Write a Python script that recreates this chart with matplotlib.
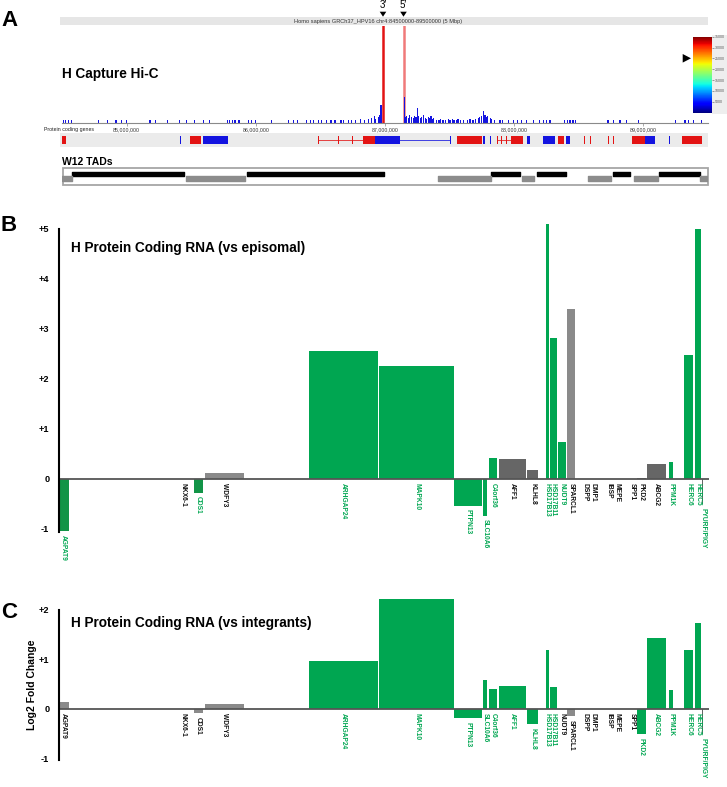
import matplotlib
matplotlib.use('Agg')
import matplotlib.pyplot as plt
from matplotlib.patches import Rectangle, Polygon
from matplotlib.colors import Normalize
from matplotlib.cm import ScalarMappable
import numpy as np

plt.rcParams['font.family'] = ['Liberation Sans', 'DejaVu Sans']

# ---------------- DATA ----------------
# Panel A: capture Hi-C read-count bars (position in Mb, height in track units)
hic_pos = [84.510, 84.529, 84.549, 84.570, 84.781, 84.854, 84.918, 84.962, 85.001, 85.181,
           85.220, 85.315, 85.406, 85.465, 85.529, 85.594, 85.640, 85.783, 85.800, 85.821,
           85.839, 85.870, 85.942, 85.968, 85.994, 86.123, 86.252, 86.290, 86.324, 86.394,
           86.420, 86.445, 86.484, 86.510, 86.549, 86.582, 86.613, 86.652, 86.665, 86.677,
           86.716, 86.743, 86.768, 86.807, 86.845, 86.871,
           86.896, 86.915, 86.930, 86.946, 86.957, 86.969,
           87.151, 87.159, 87.170, 87.182, 87.193, 87.205, 87.217, 87.228, 87.240, 87.253,
           87.263, 87.275, 87.286, 87.298, 87.310, 87.321, 87.333, 87.344, 87.356, 87.368,
           87.379, 87.395, 87.418, 87.433, 87.449, 87.472, 87.488, 87.503, 87.519, 87.534,
           87.550, 87.565, 87.588, 87.611, 87.635, 87.658, 87.681, 87.704, 87.720, 87.735,
           87.747, 87.761, 87.774, 87.786, 87.797, 87.813, 87.828, 87.844, 87.890, 87.906,
           87.954, 87.993, 88.029, 88.060, 88.097, 88.148, 88.194, 88.225, 88.252, 88.277,
           88.393, 88.409, 88.432, 88.455, 88.471, 88.726, 88.765, 88.819, 88.871, 88.961,
           89.245, 89.322, 89.348, 89.386, 89.451]
hic_val = [3, 3, 3, 3, 3, 3, 3, 3, 3, 3,
           3, 3, 3, 3, 3, 3, 3, 3, 3, 3,
           3, 3, 3, 3, 3, 3, 3, 3, 3, 3,
           3, 3, 3, 3, 3, 3, 3, 3, 3, 3,
           3, 3, 3, 4, 3, 4,
           5, 7, 4, 6, 8, 18,
           26, 6, 7, 5, 8, 6, 5, 7, 6, 15,
           7, 5, 6, 8, 5, 4, 6, 5, 7, 4,
           5, 3, 3, 4, 3, 3, 4, 3, 4, 3,
           3, 4, 3, 3, 3, 4, 3, 4, 5, 6,
           7, 12, 8, 6, 7, 5, 4, 3, 3, 3,
           3, 3, 3, 3, 3, 3, 3, 3, 3, 3,
           3, 3, 3, 3, 3, 3, 3, 3, 3, 3,
           3, 3, 3, 3, 3]
viral_3p = 86.981
viral_5p = 87.147
mb_ticks = [85, 86, 87, 88, 89]
mb_labels = ['85,000,000', '86,000,000', '87,000,000', '88,000,000', '89,000,000']

# protein coding genes track (start Mb, end Mb, strand colour)
trk_start = [84.500, 85.410, 85.491, 85.589, 86.830, 86.923, 87.555, 87.758, 87.810, 87.975,
             88.097, 88.223, 88.339, 88.401, 88.537, 88.584, 88.723, 88.762, 88.910, 89.013,
             89.195, 89.296, 86.484, 86.636, 86.745, 87.503, 87.864, 87.900, 87.935]
trk_end = [84.529, 85.418, 85.574, 85.783, 86.923, 87.116, 87.748, 87.774, 87.818, 88.070,
           88.122, 88.316, 88.386, 88.432, 88.545, 88.592, 88.731, 88.770, 89.013, 89.090,
           89.203, 89.451, 86.492, 86.644, 86.753, 87.510, 87.872, 87.908, 87.943]
trk_col = ['r', 'b', 'r', 'b', 'r', 'b', 'r', 'b', 'b', 'r',
           'b', 'b', 'r', 'b', 'r', 'r', 'r', 'r', 'r', 'b',
           'b', 'r', 'r', 'r', 'r', 'b', 'r', 'r', 'r']
intron_start = [86.484, 87.116, 87.864]
intron_end = [86.830, 87.503, 87.975]
intron_col = ['r', 'b', 'r']

# W12 TADs
tad_black = [(84.581, 85.441), (85.933, 86.992), (87.818, 88.047), (88.173, 88.404),
             (88.767, 88.898), (89.122, 89.438)]
tad_grey = [(84.500, 84.581), (85.457, 85.919), (87.407, 87.818), (88.062, 88.157),
            (88.574, 88.752), (88.929, 89.114), (89.438, 89.500)]

# Panels B & C: genes along the locus (position units along the region)
genes = ["AGPAT9", "NKX6-1", "CDS1", "WDFY3", "ARHGAP24", "MAPK10", "PTPN13", "SLC10A6",
         "C4orf36", "AFF1", "KLHL8", "HSD17B13", "HSD17B11", "NUDT9", "SPARCL1", "DSPP",
         "DMP1", "IBSP", "MEPE", "SPP1", "PKD2", "ABCG2", "PPM1K", "HERC6", "HERC5",
         "PYURF/PIGY"]
gene_start = [0, 122, 135, 146, 250, 320, 395, 424, 430, 440, 468, 487, 491, 499, 508,
              524, 532, 548, 556.5, 571, 577.5, 588, 610, 625, 636, 643]
gene_end = [9.5, 126, 144, 185, 319, 395, 423, 428, 438, 467, 479, 490, 498, 507, 516,
            528, 536, 552, 560.5, 575, 587, 607, 613.5, 634, 642, 644]

lfc_episomal = [-1.04, 0, -0.27, 0.13, 2.56, 2.27, -0.53, -0.73, 0.43, 0.40, 0.18, 5.10,
                2.83, 0.74, 3.41, 0, 0, 0, 0, 0, 0.03, 0.30, 0.35, 2.48, 5.00, -0.50]
sig_episomal = ['dg', '-', 'dg', 'lg', 'g', 'g', 'g', 'g', 'g', 'k', 'k', 'g',
                'g', 'g', 'lg', '-', '-', '-', '-', '-', 'k', 'k', 'g', 'g', 'g', 'k']
lab_episomal = ['g', 'k', 'g', 'k', 'g', 'g', 'g', 'g', 'g', 'k', 'k', 'g',
                'g', 'g', 'k', 'k', 'k', 'k', 'k', 'k', 'k', 'k', 'g', 'g', 'g', 'g']

lfc_integrants = [0.14, 0, -0.09, 0.10, 0.96, 2.22, -0.19, 0.59, 0.41, 0.47, -0.30, 1.19,
                  0.45, 0, -0.14, 0, 0, 0, 0, 0, -0.50, 1.43, 0.38, 1.20, 1.73, -0.50]
sig_integrants = ['lg', '-', 'lg', 'lg', 'g', 'g', 'g', 'g', 'g', 'g', 'g', 'g',
                  'g', '-', 'lg', '-', '-', '-', '-', '-', 'g', 'g', 'g', 'g', 'g', 'k']
lab_integrants = ['k', 'k', 'k', 'k', 'g', 'g', 'g', 'g', 'g', 'g', 'g', 'g',
                  'g', 'k', 'k', 'k', 'k', 'k', 'k', 'k', 'g', 'g', 'g', 'g', 'g', 'g']

yt_B = [-1, 0, 1, 2, 3, 4, 5]
yt_B_lab = ['-1', '0', '+1', '+2', '+3', '+4', '+5']
yt_C = [-1, 0, 1, 2]
yt_C_lab = ['-1', '0', '+1', '+2']

# ---------------- STYLE ----------------
GREEN = '#00a651'
DGREEN = '#129447'
bar_colors = {'g': GREEN, 'dg': DGREEN, 'lg': '#8a8a8a', 'k': '#666666', '-': '#888888'}
txt_colors = {'g': GREEN, 'k': '#111111'}
RED = '#e31414'
BLUE = '#1414e0'
cmap_track = {'r': RED, 'b': BLUE}

W, H = 727, 787
fig = plt.figure(figsize=(W / 100, H / 100), dpi=100)


def add_ax(x0, y0, x1, y1):
    a = fig.add_axes([x0 / W, 1 - y1 / H, (x1 - x0) / W, (y1 - y0) / H])
    a.set_facecolor('none')
    return a


ov = add_ax(0, 0, W, H)
ov.set_xlim(0, W)
ov.set_ylim(H, 0)
ov.axis('off')
ov.set_zorder(-1)

# panel letters
for letter, yy in [("A", 20), ("B", 225.5), ("C", 613)]:
    ov.text(1, yy, letter, fontsize=16, fontweight='bold', va='center', ha='left')

# ---------------- PANEL A ----------------
ov.add_patch(Rectangle((60, 17), 648, 8.3, color='#e6e6e6', lw=0))
ov.text(378, 21.2, "Homo sapiens GRCh37_HPV16 chr4:84500000-89500000 (5 Mbp)",
        fontsize=4.1, ha='center', va='center', color='#333333')
for xx, lab in [(383, "3\u2032"), (403.5, "5\u2032")]:
    ov.text(xx, 5, lab, fontsize=7, ha='center', va='center')
    ov.add_patch(Polygon([(xx - 3.3, 11.7), (xx + 3.3, 11.7), (xx, 16.7)], closed=True,
                         color='black', lw=0))
ov.text(62, 74, "H Capture Hi-C", fontsize=9.8, fontweight='bold', va='center', ha='left')
ov.text(44, 129.5, "Protein coding genes", fontsize=3.8, va='center', ha='left', color='#222222')
ov.add_patch(Rectangle((60, 132.7), 648, 14.6, color='#ebebeb', lw=0))
ov.text(62, 162.3, "W12 TADs", fontsize=7.5, fontweight='bold', va='center', ha='left')
ov.add_patch(Rectangle((62.6, 167.7), 645.4, 17.3, fill=False, ec='#a6a6a6', lw=1.3))
ov.add_patch(Rectangle((711.7, 35), 15, 79, color='#eeeeee', lw=0))
ov.add_patch(Polygon([(682.7, 54), (682.7, 62.6), (691, 58.3)], closed=True, color='black', lw=0))

hic = add_ax(62, 26, 708, 122.7)
hic.set_xlim(84.5, 89.5)
hic.set_ylim(0, 96.7)
hic.axvline(viral_3p, color=RED, lw=1.8, zorder=1)
hic.axvline(viral_5p, color='#f07a7a', lw=1.8, zorder=1)
hic.bar(hic_pos, hic_val, width=0.008, color=BLUE, lw=0, zorder=2)
for s in ['top', 'right', 'left']:
    hic.spines[s].set_visible(False)
hic.spines['bottom'].set_color('#8a8a8a')
hic.spines['bottom'].set_linewidth(0.8)
hic.set_yticks([])
hic.set_xticks(mb_ticks)
hic.set_xticklabels(mb_labels)
hic.tick_params(axis='x', length=2, width=0.5, color='#8a8a8a', labelsize=3.8,
                labelcolor='#333333', pad=1.5)

gax = add_ax(62, 132.7, 708, 147.3)
gax.set_xlim(84.5, 89.5)
gax.set_ylim(0, 1)
gax.axis('off')
for s0, s1, c in zip(intron_start, intron_end, intron_col):
    gax.plot([s0, s1], [0.5, 0.5], color=cmap_track[c], lw=0.7, alpha=0.8)
for s0, s1, c in zip(trk_start, trk_end, trk_col):
    gax.add_patch(Rectangle((s0, 0.25), s1 - s0, 0.5, color=cmap_track[c], lw=0))

tax = add_ax(62, 167.7, 708, 185)
tax.set_xlim(84.5, 89.5)
tax.set_ylim(0, 17.3)
tax.axis('off')
tax.broken_barh([(a, b - a) for a, b in tad_black], (9, 4.3), color='black')
tax.broken_barh([(a, b - a) for a, b in tad_grey], (4.3, 4.4), color='#8c8c8c')

cbx = add_ax(692.7, 36.7, 711.7, 112.7)
cb = fig.colorbar(ScalarMappable(norm=Normalize(0, 35000), cmap='jet'), cax=cbx)
cb.outline.set_visible(False)
cb.set_ticks([5000, 10000, 15000, 20000, 25000, 30000, 35000])
cb.ax.tick_params(labelsize=2.6, length=1.5, width=0.4, colors='#555555', pad=1)

# ---------------- PANELS B & C ----------------


def bar_panel(ax, vals, sig, labc, ylim, yt, ytl, bounds):
    starts = np.array(gene_start)
    ends = np.array(gene_end)
    ax.set_xlim(0, 650)
    ax.set_ylim(*ylim)
    ax.bar(starts, vals, width=ends - starts, align='edge',
           color=[bar_colors[s] for s in sig], lw=0, zorder=2)
    ax.axhline(0, color='#555555', lw=1.3, zorder=3)
    for s in ['top', 'right', 'bottom']:
        ax.spines[s].set_visible(False)
    ax.spines['left'].set_linewidth(1.5)
    ax.spines['left'].set_bounds(*bounds)
    ax.spines['left'].set_zorder(4)
    ax.set_xticks([])
    ax.set_yticks(yt)
    ax.set_yticklabels(ytl, fontweight='bold', fontsize=6.6)
    ax.tick_params(axis='y', length=0, pad=7)
    for g, s0, s1, v, lc in zip(genes, starts, ends, vals, labc):
        ax.annotate(g, xy=((s0 + s1) / 2, min(v, 0)), xytext=(0, -2.8),
                    textcoords='offset points', rotation=-90, ha='center', va='top',
                    fontsize=4.8, fontweight='bold', color=txt_colors[lc],
                    annotation_clip=False)


bax = add_ax(59, 219, 709, 534)
bar_panel(bax, lfc_episomal, sig_episomal, lab_episomal, (-1.1, 5.2), yt_B, yt_B_lab, (-1.06, 5))
ov.text(71, 248, "H Protein Coding RNA (vs episomal)", fontsize=9.8, fontweight='bold',
        va='center', ha='left')

cax2 = add_ax(59, 595, 709, 763.5)
bar_panel(cax2, lfc_integrants, sig_integrants, lab_integrants, (-1.1, 2.3), yt_C, yt_C_lab, (-1.03, 2))
ov.text(71, 622.7, "H Protein Coding RNA (vs integrants)", fontsize=9.8, fontweight='bold',
        va='center', ha='left')
ov.text(31.7, 684.7, "Log2 Fold Change", rotation=90, fontsize=7.5, fontweight='bold',
        ha='center', va='center')

fig.savefig('out.png', dpi=100)
